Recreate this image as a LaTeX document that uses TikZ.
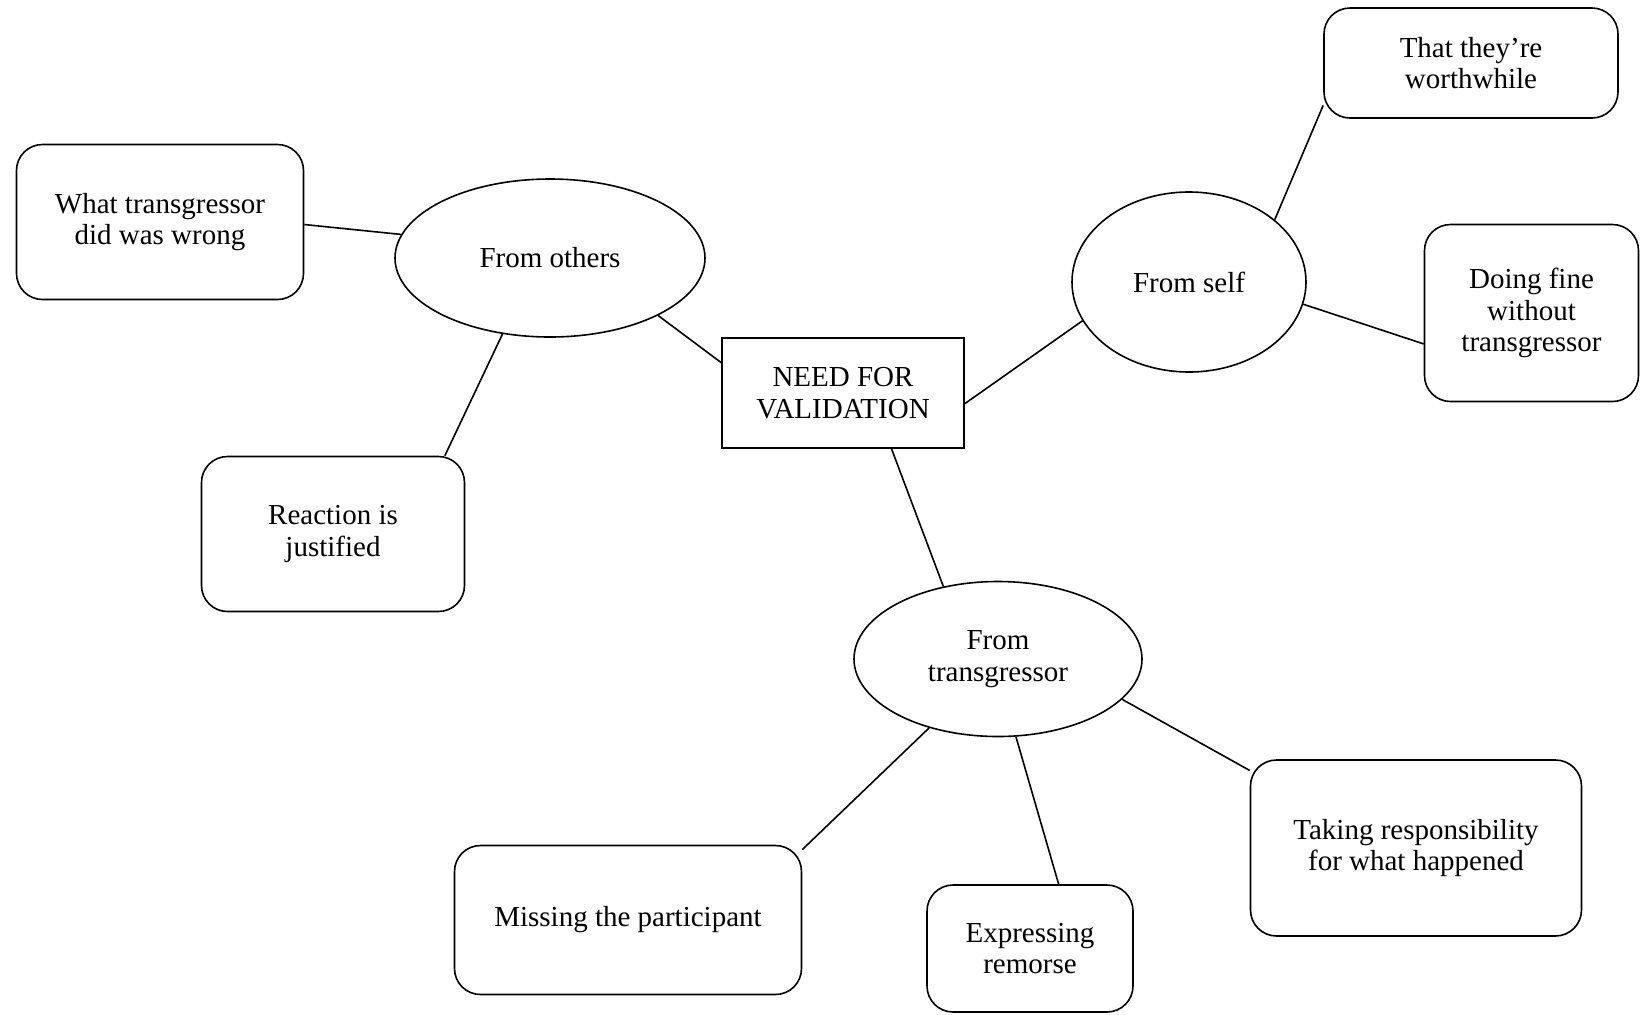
\documentclass[tikz,border=0pt]{standalone}
\usepackage{fontspec}
\setmainfont{Liberation Serif}
\usetikzlibrary{shapes.geometric}
\tikzset{
  every node/.style={font=\fontsize{14.5pt}{15.7pt}\selectfont, align=center, inner sep=0pt},
  rbox/.style={draw, line width=0.8pt, rounded corners=13pt},
  sbox/.style={draw, line width=0.8pt},
  ell/.style={draw, ellipse, line width=0.8pt},
  link/.style={line width=0.8pt}
}
\begin{document}
\begin{tikzpicture}[x=0.5pt,y=-0.5pt]
\useasboundingbox (0,0) rectangle (1640,1014);
\fill[white] (0,0) rectangle (1640,1014);

\node[sbox, minimum width=121pt, minimum height=55pt] (need) at (843,393) {NEED FOR\\VALIDATION};

\node[ell, minimum width=155pt, minimum height=79pt] (others) at (550,258) {From others};
\node[ell, minimum width=117pt, minimum height=90pt] (self) at (1189,282) {From self};
\node[ell, minimum width=144pt, minimum height=77.5pt] (trans) at (998,659) {From\\transgressor};

\node[rbox, minimum width=143.5pt, minimum height=77.5pt] (wrong) at (160,222) {What transgressor\\did was wrong};
\node[rbox, minimum width=131.5pt, minimum height=77.5pt] (react) at (333,534) {Reaction is\\justified};
\node[rbox, minimum width=147pt, minimum height=55pt] (worth) at (1471,63) {That they’re\\worthwhile};
\node[rbox, minimum width=107pt, minimum height=88.5pt] (fine) at (1531.5,313) {Doing fine\\without\\transgressor};
\node[rbox, minimum width=173.5pt, minimum height=74.5pt] (miss) at (628,920) {Missing the participant};
\node[rbox, minimum width=103pt, minimum height=63.5pt] (remorse) at (1030,948.5) {Expressing\\remorse};
\node[rbox, minimum width=165.5pt, minimum height=88pt] (resp) at (1416,848) {Taking responsibility\\for what happened};

\draw[link] (others.-28.5) -- (need.166);
\draw[link] (wrong.-1) -- (others.171);
\draw[link] (react.35) -- (others.238);
\draw[link] (need.-5) -- (self.200.7);
\draw[link] (self.36.8) -- (worth.196);
\draw[link] (self.-11.4) -- (fine.196);
\draw[link] (need.-49.5) -- (trans.127);
\draw[link] (trans.225.8) -- (miss.22);
\draw[link] (trans.-77.5) -- (remorse.66);
\draw[link] (trans.-18) -- (resp.155);
\end{tikzpicture}
\end{document}
